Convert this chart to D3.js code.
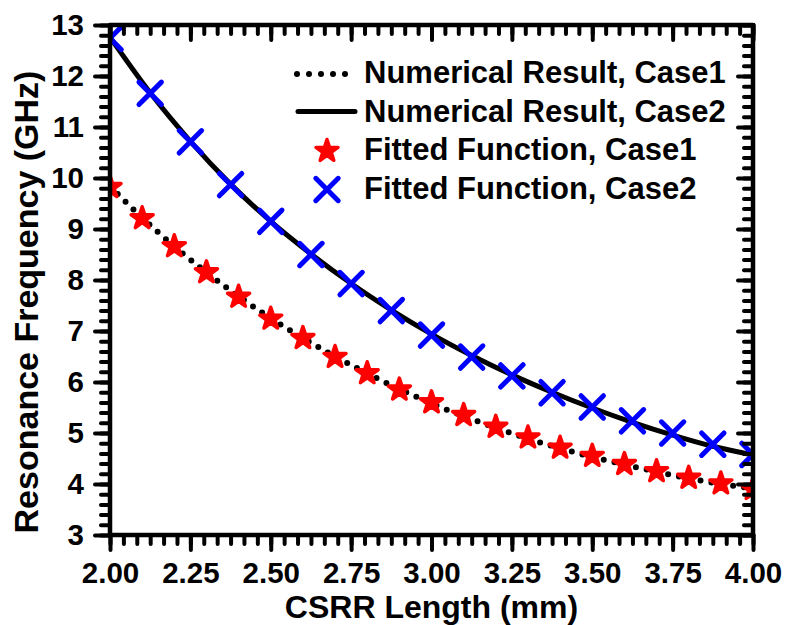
<!DOCTYPE html>
<html>
<head>
<meta charset="utf-8">
<script src="https://cdn.jsdelivr.net/npm/d3@7"></script>
<style>
  body { margin: 0; background: #ffffff; }
  text { font-family: "Liberation Sans", Arial, sans-serif; font-weight: bold; fill: #000; }
</style>
</head>
<body>
<svg id="chart" width="785" height="625"></svg>
<script>
// CSRR length (mm) for each series
const lengthCase1 = [2.0, 2.1, 2.2, 2.3, 2.4, 2.5, 2.6, 2.7, 2.8, 2.9, 3.0, 3.1, 3.2, 3.3, 3.4, 3.5, 3.6, 3.7, 3.8, 3.9, 4.0];
const lengthCase2 = [2.0, 2.125, 2.25, 2.375, 2.5, 2.625, 2.75, 2.875, 3.0, 3.125, 3.25, 3.375, 3.5, 3.625, 3.75, 3.875, 4.0];

// resonance frequency (GHz)
const numericalCase1 = [9.84, 9.22, 8.66, 8.15, 7.68, 7.25, 6.86, 6.50, 6.17, 5.86, 5.58, 5.33, 5.10, 4.89, 4.70, 4.53, 4.38, 4.24, 4.11, 4.00, 3.91];
const numericalCase2 = [12.76, 11.67, 10.72, 9.88, 9.15, 8.51, 7.93, 7.41, 6.94, 6.52, 6.14, 5.80, 5.49, 5.21, 4.96, 4.74, 4.57];
const fittedCase1 = [9.82, 9.21, 8.66, 8.15, 7.67, 7.24, 6.86, 6.49, 6.17, 5.85, 5.60, 5.35, 5.12, 4.91, 4.71, 4.55, 4.39, 4.25, 4.12, 4.01, 3.90];
const fittedCase2 = [12.74, 11.66, 10.71, 9.87, 9.15, 8.50, 7.93, 7.40, 6.92, 6.49, 6.12, 5.79, 5.51, 5.24, 5.00, 4.78, 4.58];

const xTicks = [2.00, 2.25, 2.50, 2.75, 3.00, 3.25, 3.50, 3.75, 4.00];
const yTicks = [3, 4, 5, 6, 7, 8, 9, 10, 11, 12, 13];
const legendLabels = ["Numerical Result, Case1", "Numerical Result, Case2", "Fitted Function, Case1", "Fitted Function, Case2"];
const legendKinds = ["dots", "solid", "star", "cross"];

class ResonanceChart {
    constructor() {
        this.svg = d3.select("#chart");
        this.x = d3.scaleLinear().domain([2, 4]).range([110, 753]);
        this.y = d3.scaleLinear().domain([3, 13]).range([535, 25]);

        this.svg.append("clipPath").attr("id", "plotClip")
            .append("rect")
            .attr("x", this.x(2)).attr("y", this.y(13))
            .attr("width", this.x(4) - this.x(2)).attr("height", this.y(3) - this.y(13));

        this.linesCreate();
        this.markersCreate();
        this.axesCreate();
        this.legendCreate();
    }

    styleTicks(g) {
        g.select(".domain").attr("visibility", "hidden");
        g.selectAll("line").attr("stroke", "#000").attr("stroke-width", 4).attr("stroke-linecap", "round");
    }

    axesCreate() {
        let svg = this.svg;
        let x = this.x, y = this.y;
        let xMinor = d3.range(0, 49).map(i => 2 + i / 24);
        let yMinor = d3.range(0, 51).map(i => 3 + i * 0.2);

        // minor ticks on all four sides
        let minor = [
            [d3.axisBottom(x).tickValues(xMinor).tickSize(9), `translate(0,${y(3)})`],
            [d3.axisTop(x).tickValues(xMinor).tickSize(-9), `translate(0,${y(13)})`],
            [d3.axisLeft(y).tickValues(yMinor).tickSize(9), `translate(${x(2)},0)`],
            [d3.axisRight(y).tickValues(yMinor).tickSize(-9), `translate(${x(4)},0)`]
        ];
        minor.forEach(m => {
            let g = svg.append("g").attr("transform", m[1]).call(m[0].tickFormat(""));
            this.styleTicks(g);
        });

        let top = svg.append("g").attr("transform", `translate(0,${y(13)})`)
            .call(d3.axisTop(x).tickValues(xTicks).tickSize(-15).tickFormat(""));
        this.styleTicks(top);
        let right = svg.append("g").attr("transform", `translate(${x(4)},0)`)
            .call(d3.axisRight(y).tickValues(yTicks).tickSize(-15).tickFormat(""));
        this.styleTicks(right);

        let bottom = svg.append("g").attr("transform", `translate(0,${y(3)})`)
            .call(d3.axisBottom(x).tickValues(xTicks).tickSize(15).tickPadding(12).tickFormat(d3.format(".2f")));
        this.styleTicks(bottom);
        bottom.selectAll("text").attr("font-size", 29.5).attr("font-family", null).attr("fill", "#000");

        let left = svg.append("g").attr("transform", `translate(${x(2)},0)`)
            .call(d3.axisLeft(y).tickValues(yTicks).tickSize(15).tickPadding(11));
        this.styleTicks(left);
        left.selectAll("text").attr("font-size", 29.5).attr("font-family", null).attr("fill", "#000");

        // frame
        svg.append("rect")
            .attr("x", x(2)).attr("y", y(13))
            .attr("width", x(4) - x(2)).attr("height", y(3) - y(13))
            .attr("fill", "none").attr("stroke", "#000").attr("stroke-width", 4.5)
            .attr("stroke-linejoin", "round");

        svg.append("text").text("CSRR Length (mm)")
            .attr("x", (x(2) + x(4)) / 2).attr("y", 618)
            .attr("text-anchor", "middle").attr("font-size", 32);

        svg.append("text").text("Resonance Frequency (GHz)")
            .attr("transform", "translate(38,302) rotate(-90)")
            .attr("text-anchor", "middle").attr("font-size", 34);
    }

    linesCreate() {
        let x = this.x, y = this.y;
        let plot = this.svg.append("g").attr("clip-path", "url(#plotClip)");
        let line = d3.line().x(d => x(d[0])).y(d => y(d[1])).curve(d3.curveMonotoneX);

        plot.append("path")
            .datum(d3.zip(lengthCase1, numericalCase1))
            .attr("d", line)
            .attr("fill", "none").attr("stroke", "#000").attr("stroke-width", 6)
            .attr("stroke-linecap", "round").attr("stroke-dasharray", "0 11");

        plot.append("path")
            .datum(d3.zip(lengthCase2, numericalCase2))
            .attr("d", line)
            .attr("fill", "none").attr("stroke", "#000").attr("stroke-width", 5);
    }

    markersCreate() {
        let x = this.x, y = this.y;
        let plot = this.svg.append("g").attr("clip-path", "url(#plotClip)");
        this.star = d3.symbol(d3.symbolStar).size(150);
        this.cross = d3.symbol(d3.symbolTimes).size(330);

        plot.selectAll(".star").data(d3.zip(lengthCase1, fittedCase1)).join("path")
            .attr("class", "star")
            .attr("d", this.star)
            .attr("transform", d => `translate(${x(d[0])},${y(d[1])})`)
            .attr("fill", "#ff0000").attr("stroke", "#ff0000").attr("stroke-width", 3.5)
            .attr("stroke-linejoin", "round");

        plot.selectAll(".cross").data(d3.zip(lengthCase2, fittedCase2)).join("path")
            .attr("class", "cross")
            .attr("d", this.cross)
            .attr("transform", d => `translate(${x(d[0])},${y(d[1])})`)
            .attr("fill", "none").attr("stroke", "#0000ff").attr("stroke-width", 5)
            .attr("stroke-linecap", "round");
    }

    legendCreate() {
        let rows = this.svg.append("g").selectAll("g")
            .data(d3.zip(legendLabels, legendKinds)).join("g")
            .attr("transform", (d, i) => `translate(0,${83 + i * 38.5})`);

        rows.append("text").text(d => d[0])
            .attr("x", 364).attr("y", 0).attr("font-size", 31);

        rows.filter(d => d[1] == "dots").append("line")
            .attr("x1", 297).attr("x2", 350).attr("y1", -9).attr("y2", -9)
            .attr("stroke", "#000").attr("stroke-width", 6)
            .attr("stroke-linecap", "round").attr("stroke-dasharray", "0 12");

        rows.filter(d => d[1] == "solid").append("line")
            .attr("x1", 298).attr("x2", 355).attr("y1", -10).attr("y2", -10)
            .attr("stroke", "#000").attr("stroke-width", 5).attr("stroke-linecap", "round");

        rows.filter(d => d[1] == "star").append("path")
            .attr("d", this.star).attr("transform", "translate(327,-9)")
            .attr("fill", "#ff0000").attr("stroke", "#ff0000").attr("stroke-width", 3.5)
            .attr("stroke-linejoin", "round");

        rows.filter(d => d[1] == "cross").append("path")
            .attr("d", this.cross).attr("transform", "translate(327,-9)")
            .attr("fill", "none").attr("stroke", "#0000ff").attr("stroke-width", 5)
            .attr("stroke-linecap", "round");
    }
}

new ResonanceChart();
</script>
</body>
</html>
